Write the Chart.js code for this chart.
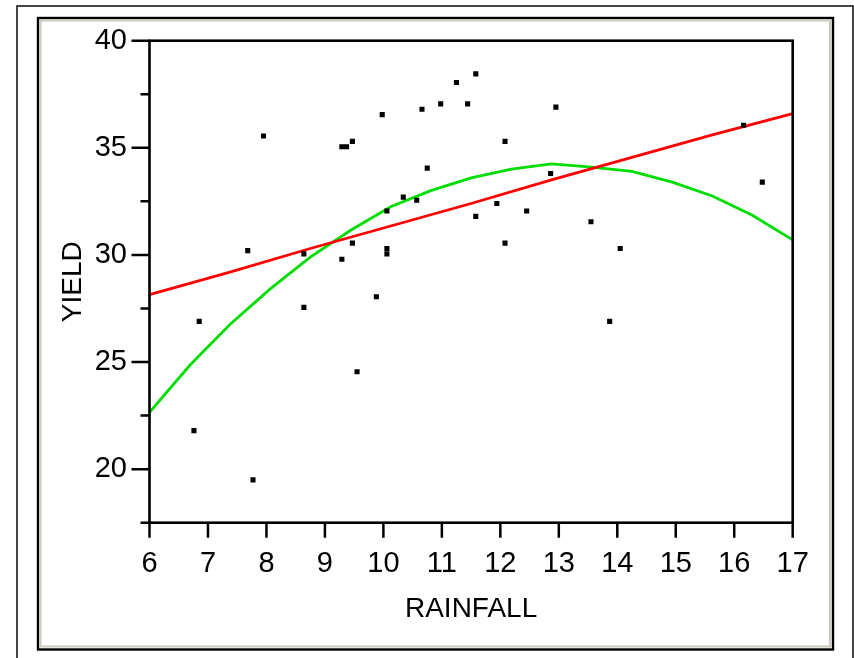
<!DOCTYPE html>
<html>
<head>
<meta charset="utf-8">
<title>Yield vs Rainfall</title>
<script src="https://cdn.jsdelivr.net/npm/chart.js@4/dist/chart.umd.min.js"></script>
<style>
  html, body { margin: 0; padding: 0; background: #fff; }
  #chart { display: block; }
</style>
</head>
<body>
<canvas id="chart" width="854" height="658"></canvas>
<script>
// ---- data ----
const rainfall = [6.76, 6.85, 7.68, 7.77, 7.95, 8.64, 8.64, 9.29, 9.37, 9.47,
  9.29, 9.47, 9.55, 9.88, 9.98, 10.06, 10.06, 10.06, 10.34, 10.57,
  10.66, 10.75, 10.98, 11.25, 11.44, 11.58, 11.58, 11.94, 12.08, 12.08,
  12.45, 12.86, 12.95, 13.55, 13.87, 14.05, 16.16, 16.48];
const yieldValues = [21.8, 26.9, 30.2, 19.5, 35.55, 30.05, 27.55, 35.05, 35.05, 35.3,
  29.8, 30.55, 24.55, 28.05, 36.55, 32.05, 30.3, 30.05, 32.7, 32.55,
  36.8, 34.05, 37.05, 38.05, 37.05, 38.45, 31.8, 32.4, 35.3, 30.55,
  32.05, 33.8, 36.9, 31.55, 26.9, 30.3, 36.05, 33.4];

// straight fit (red)
const linearX = [6, 7.375, 8.75, 10.125, 11.5, 12.875, 14.25, 15.625, 17];
const linearY = [28.15, 29.2, 30.3, 31.35, 32.4, 33.5, 34.55, 35.6, 36.6];

// curved fit (green)
const curveX = [6, 6.69, 7.375, 8.06, 8.75, 9.44, 10.125, 10.81, 11.5,
  12.19, 12.875, 13.56, 14.25, 14.94, 15.625, 16.31, 17];
const curveY = [22.65, 24.85, 26.75, 28.4, 29.9, 31.15, 32.25, 33.0, 33.6,
  34.0, 34.25, 34.1, 33.9, 33.4, 32.75, 31.85, 30.7];

const xTicks = { min: 6, max: 17, step: 1 };
const yTicks = { min: 17.5, max: 40, step: 2.5, labelEvery: 5 };

const FONT = "'Liberation Sans', Arial, sans-serif";

const toPoints = (xs, ys) => xs.map((x, i) => ({ x, y: ys[i] }));

// frames, plot box and tick marks
const framePlugin = {
  id: 'frames',
  beforeDraw(chart) {
    const { ctx, width, height } = chart;
    ctx.save();
    ctx.fillStyle = '#ffffff';
    ctx.fillRect(0, 0, width, height);
    // outer frame
    ctx.strokeStyle = '#1a1a1a';
    ctx.lineWidth = 1.6;
    ctx.strokeRect(17, 6, 836, 700);
    // inner frame with grey bevel
    ctx.strokeStyle = '#000000';
    ctx.lineWidth = 2.4;
    ctx.strokeRect(38, 18, 795, 631.5);
    ctx.strokeStyle = '#cdc9bd';
    ctx.lineWidth = 2;
    ctx.strokeRect(40.5, 20.5, 789.5, 626);
    ctx.restore();
  },
  afterDraw(chart) {
    const { ctx, chartArea: a, scales } = chart;
    ctx.save();
    ctx.strokeStyle = '#000000';
    ctx.lineWidth = 2.6;
    ctx.strokeRect(a.left, a.top, a.right - a.left, a.bottom - a.top);
    ctx.lineWidth = 2.5;
    ctx.beginPath();
    scales.x.ticks.forEach(t => {
      const px = scales.x.getPixelForValue(t.value);
      ctx.moveTo(px, a.bottom);
      ctx.lineTo(px, a.bottom + 15);
    });
    scales.y.ticks.forEach(t => {
      const py = scales.y.getPixelForValue(t.value);
      const len = t.value % yTicks.labelEvery === 0 ? 18 : 9;
      ctx.moveTo(a.left - len, py);
      ctx.lineTo(a.left, py);
    });
    ctx.stroke();
    ctx.restore();
  },
};

const ctx = document.getElementById('chart').getContext('2d');
new Chart(ctx, {
  type: 'scatter',
  data: {
    datasets: [
      {
        label: 'YIELD',
        data: toPoints(rainfall, yieldValues),
        pointStyle: 'rect',
        pointRadius: 3.6,
        pointBorderWidth: 0,
        backgroundColor: '#000000',
        borderColor: '#000000',
      },
      {
        label: 'Linear fit',
        data: toPoints(linearX, linearY),
        showLine: true,
        borderColor: '#ff0000',
        borderWidth: 2.8,
        pointRadius: 0,
        tension: 0,
      },
      {
        label: 'Quadratic fit',
        data: toPoints(curveX, curveY),
        showLine: true,
        borderColor: '#00dd00',
        borderWidth: 2.8,
        pointRadius: 0,
        tension: 0,
      },
    ],
  },
  options: {
    responsive: false,
    animation: false,
    layout: { padding: { left: 0, top: 40.7, right: 61.3, bottom: 0 } },
    plugins: {
      legend: { display: false },
      tooltip: { enabled: false },
    },
    scales: {
      x: {
        type: 'linear',
        min: xTicks.min,
        max: xTicks.max,
        afterFit: (scale) => { scale.height = 135.3; },
        grid: { display: false, drawTicks: false },
        border: { display: false },
        ticks: {
          stepSize: xTicks.step,
          autoSkip: false,
          maxRotation: 0,
          padding: 24,
          color: '#000000',
          font: { family: FONT, size: 29 },
        },
        title: {
          display: true,
          text: 'RAINFALL',
          color: '#000000',
          font: { family: FONT, size: 28 },
          padding: { top: 0, bottom: 32 },
        },
      },
      y: {
        type: 'linear',
        min: yTicks.min,
        max: yTicks.max,
        afterFit: (scale) => { scale.width = 149.5; },
        grid: { display: false, drawTicks: false },
        border: { display: false },
        ticks: {
          stepSize: yTicks.step,
          autoSkip: false,
          padding: 22.5,
          color: '#000000',
          font: { family: FONT, size: 29 },
          callback: (v) => (v % yTicks.labelEvery === 0 ? String(v) : ''),
        },
        title: {
          display: true,
          text: 'YIELD',
          color: '#000000',
          font: { family: FONT, size: 28 },
          padding: { top: 56.5, bottom: 0 },
        },
      },
    },
  },
  plugins: [framePlugin],
});
</script>
</body>
</html>
